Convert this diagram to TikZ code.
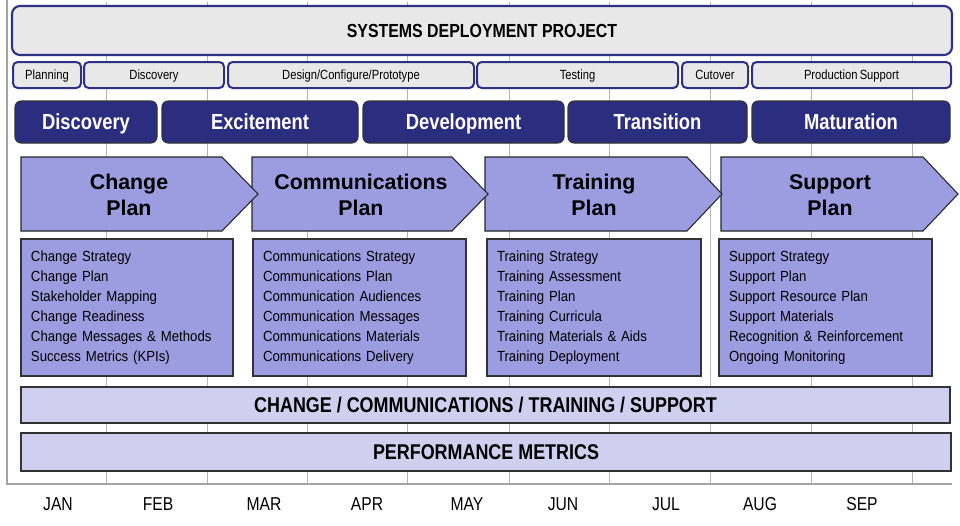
\documentclass[tikz,border=0pt]{standalone}
\usepackage{fontspec}
\setmainfont{Liberation Sans}
\newfontfamily\nf{Liberation Sans}[FakeStretch=0.84]
\newfontfamily\lf{Liberation Sans}[FakeStretch=0.9,WordSpace=1.5]
\definecolor{navy}{HTML}{2E3088}
\definecolor{darknavy}{HTML}{2B2D7E}
\definecolor{lgray}{HTML}{E8E8E8}
\definecolor{lav}{HTML}{9C9CE0}
\definecolor{pale}{HTML}{CFCFEF}
\definecolor{gridc}{HTML}{B4B4B4}
\definecolor{framec}{HTML}{A4A4A4}
\newcommand\bx[7]{\node[#6, anchor=north west, minimum width={(#4-#2)*0.75pt}, minimum height={(#5-#3)*0.75pt}] (#1) at (#2,#3) {#7};}
\tikzset{
  base/.style={inner sep=0pt, outer sep=0pt},
  titlebox/.style={base, text height=10.2pt, text depth=0pt, draw=navy, line width=1.6pt, fill=lgray, rounded corners=6pt, font=\nf\bfseries\fontsize{14.2}{16}\selectfont},
  phasebox/.style={base, text height=7.2pt, text depth=0pt, draw=navy, line width=1.5pt, fill=lgray, rounded corners=3.5pt, font=\nf\fontsize{10}{12}\selectfont},
  stagebox/.style={base, text height=11.7pt, text depth=0pt, draw=black!80, line width=0.8pt, fill=darknavy, rounded corners=4.5pt, text=white, font=\nf\bfseries\fontsize{16.4}{18}\selectfont},
  chev/.style={draw=black!85, line width=0.8pt, fill=lav},
  chevtxt/.style={base, align=center, font=\bfseries\fontsize{16}{20}\selectfont},
  listbox/.style={base, draw=black!80, line width=1pt, fill=lav, align=left, inner xsep=7.5pt, font=\lf\fontsize{11}{15}\selectfont},
  barbox/.style={base, text height=11.5pt, text depth=0pt, draw=black!80, line width=1pt, fill=pale, font=\nf\bfseries\fontsize{16}{18}\selectfont},
  month/.style={base, anchor=base, font=\nf\fontsize{14}{16}\selectfont},
  gridline/.style={draw=gridc, line width=0.7pt},
  framel/.style={draw=framec, line width=2.2pt}
}
\begin{document}
\begin{tikzpicture}[x=0.75pt,y=-0.75pt]
\useasboundingbox (0,0) rectangle (960,525);
% grid
\foreach \gx in {106,207,307,407,509,609,710,811,912}
  \draw[gridline] (\gx,2) -- (\gx,484);
% frame
\coordinate (ftop) at (7,0);
\coordinate (fcorner) at (7,484);
\coordinate (fend) at (952,484);
\draw[framel] (ftop) -- (fcorner) -- (fend);
% title
\bx{title}{12}{6}{952}{55}{titlebox}{SYSTEMS DEPLOYMENT PROJECT}
% phases
\bx{planning}{13}{62}{81}{88}{phasebox}{Planning}
\bx{discov}{84}{62}{224}{88}{phasebox}{Discovery}
\bx{design}{228}{62}{474}{88}{phasebox}{Design/Configure/Prototype}
\bx{testing}{477}{62}{678}{88}{phasebox}{Testing}
\bx{cutover}{682}{62}{748}{88}{phasebox}{Cutover}
\bx{prodsup}{752}{62}{951}{88}{phasebox}{Production\,Support}
% stages
\bx{sdisc}{15}{101}{157}{143}{stagebox}{Discovery}
\bx{sexc}{162}{101}{358}{143}{stagebox}{Excitement}
\bx{sdev}{363}{101}{564}{143}{stagebox}{Development}
\bx{strans}{568}{101}{747}{143}{stagebox}{Transition}
\bx{smat}{752}{101}{950}{143}{stagebox}{Maturation}
% chevrons (reverse order so tips overlap next)
\draw[chev] (721,157) -- (923,157) -- (958,194) -- (923,231) -- (721,231) -- cycle;
\node[chevtxt] (supplan) at (830,195) {Support\\Plan};
\draw[chev] (485,157) -- (687,157) -- (722,194) -- (687,231) -- (485,231) -- cycle;
\node[chevtxt] (trainplan) at (594,195) {Training\\Plan};
\draw[chev] (252,157) -- (452,157) -- (488,194) -- (452,231) -- (252,231) -- cycle;
\node[chevtxt] (commplan) at (361,195) {Communications\\Plan};
\draw[chev] (21,157) -- (222,157) -- (258,194) -- (222,231) -- (21,231) -- cycle;
\node[chevtxt] (chgplan) at (129,195) {Change\\Plan};
% lists
\node[listbox, anchor=north west, minimum width=159pt, minimum height=102.75pt, text width=144pt] (chglist) at (21,239)
 {Change Strategy\\Change Plan\\Stakeholder Mapping\\Change Readiness\\Change Messages \& Methods\\Success Metrics (KPIs)};
\node[listbox, anchor=north west, minimum width=159.75pt, minimum height=102.75pt, text width=144.75pt] (commlist) at (253,239)
 {Communications Strategy\\Communications Plan\\Communication Audiences\\Communication Messages\\Communications Materials\\Communications Delivery};
\node[listbox, anchor=north west, minimum width=160.5pt, minimum height=102.75pt, text width=145.5pt] (trainlist) at (487,239)
 {Training Strategy\\Training Assessment\\Training Plan\\Training Curricula\\Training Materials \& Aids\\Training Deployment};
\node[listbox, anchor=north west, minimum width=159.75pt, minimum height=102.75pt, text width=144.75pt] (suplist) at (719,239)
 {Support Strategy\\Support Plan\\Support Resource Plan\\Support Materials\\Recognition \& Reinforcement\\Ongoing Monitoring};
% bars
\bx{bar1}{21}{387}{950}{423}{barbox}{CHANGE / COMMUNICATIONS / TRAINING / SUPPORT}
\bx{bar2}{21}{433}{951}{471}{barbox}{PERFORMANCE METRICS}
% months
\node[month] (jan) at (58,510) {JAN};
\node[month] (feb) at (158,510) {FEB};
\node[month] (mar) at (264,510) {MAR};
\node[month] (apr) at (367,510) {APR};
\node[month] (may) at (467,510) {MAY};
\node[month] (jun) at (563,510) {JUN};
\node[month] (jul) at (666,510) {JUL};
\node[month] (aug) at (760,510) {AUG};
\node[month] (sep) at (862,510) {SEP};
\end{tikzpicture}
\end{document}
